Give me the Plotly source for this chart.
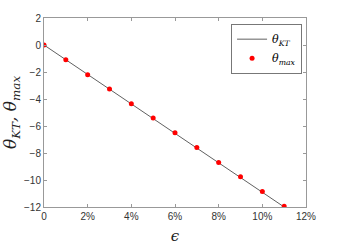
import plotly.graph_objects as go

eps = [0, 0.01, 0.02, 0.03, 0.04, 0.05, 0.06, 0.07, 0.08, 0.09, 0.10, 0.11]
theta_max = [0, -1.1, -2.2, -3.25, -4.35, -5.4, -6.5, -7.6, -8.7, -9.75, -10.85, -11.95]
kt_x = [0, 0.11]
kt_y = [0, -12.0]
xtick_vals = [0, 0.02, 0.04, 0.06, 0.08, 0.10, 0.12]
xtick_text = ["0", "2%", "4%", "6%", "8%", "10%", "12%"]
ytick_vals = [2, 0, -2, -4, -6, -8, -10, -12]

fig = go.Figure()
fig.add_trace(go.Scatter(x=kt_x, y=kt_y, mode="lines",
                         line=dict(color="#606060", width=1),
                         name="<i>θ</i><sub><i>KT</i></sub>"))
fig.add_trace(go.Scatter(x=eps, y=theta_max, mode="markers",
                         marker=dict(color="#ff0000", size=5),
                         name="<i>θ</i><sub><i>max</i></sub>"))

axis_common = dict(showgrid=False, zeroline=False, showline=True, linecolor="#999999",
                   linewidth=1, mirror="ticks", ticks="inside", ticklen=3, automargin=False,
                   tickcolor="#999999", tickfont=dict(family="Liberation Sans, Arial", size=10, color="#333333"))

fig.update_layout(
    width=339, height=246,
    margin=dict(l=44, r=33, t=18, b=39),
    plot_bgcolor="white", paper_bgcolor="white",
    showlegend=True,
    legend=dict(x=0.985, y=0.97, xanchor="right", yanchor="top",
                bgcolor="white", bordercolor="#777777", borderwidth=1,
                font=dict(family="DejaVu Serif, serif", size=11, color="black"),
                tracegroupgap=0, itemwidth=30),
    xaxis=dict(range=[0, 0.12], tickvals=xtick_vals, ticktext=xtick_text,
               title=dict(text="<i>ϵ</i>", font=dict(family="DejaVu Serif, serif", size=15, color="#222222"), standoff=9),
               **axis_common),
    yaxis=dict(range=[-12, 2], tickvals=ytick_vals,
               title=dict(text="<i>θ</i><sub><i>KT</i></sub><i>, θ</i><sub><i>max</i></sub>",
                          font=dict(family="DejaVu Serif, serif", size=17, color="#222222"), standoff=4),
               **axis_common),
)
fig.write_html("out.html", config={"displayModeBar": False},
               post_script="document.body.style.margin='0';")
